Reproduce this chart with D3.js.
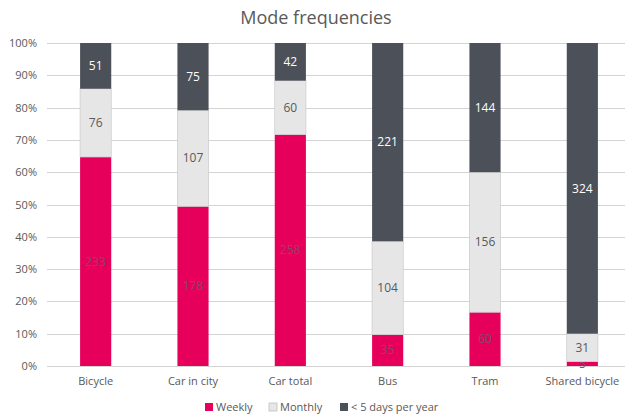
<!DOCTYPE html>
<html>
<head>
<meta charset="utf-8">
<script src="https://cdn.jsdelivr.net/npm/d3@7"></script>
<style>
  html, body { margin: 0; padding: 0; background: #fff; }
  svg { display: block; font-family: "Open Sans", "Noto Sans", sans-serif; }
</style>
</head>
<body>
<svg id="chart" width="625" height="417"></svg>
<script>
// Travel mode frequencies (respondent counts per frequency class)
const categories = ["Bicycle", "Car in city", "Car total", "Bus", "Tram", "Shared bicycle"];
const weekly  = [233, 178, 258, 35, 60, 5];
const monthly = [76, 107, 60, 104, 156, 31];
const rare    = [51, 75, 42, 221, 144, 324];
const seriesNames = ["Weekly", "Monthly", "< 5 days per year"];
const yTicks = [0, 0.1, 0.2, 0.3, 0.4, 0.5, 0.6, 0.7, 0.8, 0.9, 1];

const colors = ["#E6005C", "#E6E6E6", "#4B5059"];
const labelColors = ["#854a66", "#595959", "#ffffff"];

const svg = d3.select("#chart");
const W = 625, H = 417;
const margin = { top: 43, right: -6, bottom: 51, left: 47 };
const plotW = W - margin.left - margin.right;
const plotH = H - margin.top - margin.bottom;

const g = svg.append("g").attr("transform", `translate(${margin.left},${margin.top})`);

const x = d3.scaleBand().domain(categories).range([0, plotW]).paddingInner(0.68).paddingOuter(0.34);
const y = d3.scaleLinear().domain([0, 1]).range([plotH, 0]);

// Title
svg.append("text")
  .attr("x", 316).attr("y", 24)
  .attr("text-anchor", "middle")
  .attr("font-size", 18)
  .attr("fill", "#595959")
  .text("Mode frequencies");

// Gridlines
g.append("g")
  .selectAll("line")
  .data(yTicks)
  .join("line")
  .attr("x1", 0).attr("x2", plotW)
  .attr("y1", d => Math.round(y(d)) + 0.5).attr("y2", d => Math.round(y(d)) + 0.5)
  .attr("stroke", "#d4d4d4")
  .attr("stroke-width", 1);

// Y axis labels
const yAxis = d3.axisLeft(y).tickValues(yTicks).tickFormat(d3.format(".0%")).tickSize(0).tickPadding(10);
const ya = g.append("g").call(yAxis);
ya.select(".domain").remove();
ya.selectAll("text").attr("font-size", 11).attr("fill", "#595959").attr("font-family", "\"Open Sans\", \"Noto Sans\", sans-serif");

// Stack data
const rows = categories.map((c, i) => ({ cat: c, Weekly: weekly[i], Monthly: monthly[i], "< 5 days per year": rare[i] }));
const stack = d3.stack().keys(seriesNames).offset(d3.stackOffsetExpand);
const layers = stack(rows);

layers.forEach((layer, li) => {
  const lg = g.append("g");
  lg.selectAll("rect")
    .data(layer)
    .join("rect")
    .attr("x", d => x(d.data.cat))
    .attr("width", x.bandwidth())
    .attr("y", d => y(d[1]))
    .attr("height", d => y(d[0]) - y(d[1]))
    .attr("fill", colors[li])
    .attr("stroke", li === 1 ? "#cfcfcf" : "none")
    .attr("stroke-width", 0.8);
  lg.selectAll("text")
    .data(layer)
    .join("text")
    .attr("x", d => x(d.data.cat) + x.bandwidth() / 2)
    .attr("y", d => (y(d[0]) + y(d[1])) / 2)
    .attr("dy", "0.35em")
    .attr("text-anchor", "middle")
    .attr("font-size", 12)
    .attr("fill", labelColors[li])
    .text(d => d.data[seriesNames[li]]);
});

// X axis labels
const xAxis = d3.axisBottom(x).tickSize(0).tickPadding(11);
const xa = g.append("g").attr("transform", `translate(0,${plotH})`).call(xAxis);
xa.select(".domain").remove();
xa.selectAll("text").attr("font-size", 11).attr("fill", "#595959").attr("font-family", "\"Open Sans\", \"Noto Sans\", sans-serif");

// Legend
const legendX = [205, 269, 340];
const lgd = svg.append("g");
seriesNames.forEach((name, i) => {
  lgd.append("rect")
    .attr("x", legendX[i]).attr("y", 403)
    .attr("width", 8).attr("height", 8)
    .attr("fill", colors[i])
    .attr("stroke", i === 1 ? "#bfbfbf" : "none")
    .attr("stroke-width", 0.8);
  lgd.append("text")
    .attr("x", legendX[i] + 11).attr("y", 407)
    .attr("dy", "0.35em")
    .attr("font-size", 11)
    .attr("fill", "#595959")
    .text(name);
});
</script>
</body>
</html>
